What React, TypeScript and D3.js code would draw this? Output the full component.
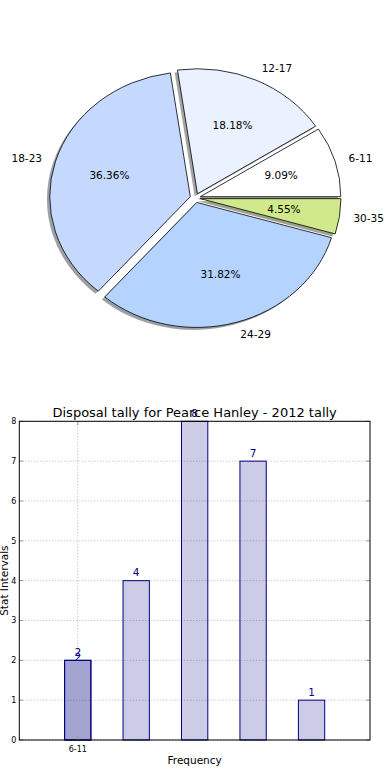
import React from "react";
import * as d3 from "d3";

// age brackets and their disposal counts
const ageGroups = ["6-11", "12-17", "18-23", "24-29", "30-35"];
const disposals = [2, 4, 8, 7, 1];
const wedgeColors = ["#ffffff", "#eaf1ff", "#c5d9ff", "#b4d4ff", "#cfe98b"];

// the first bar was plotted twice in the original
const repeatedBars = [{ index: 0, value: 2 }];
const yTicks = [0, 1, 2, 3, 4, 5, 6, 7, 8];
const xTicks = [{ pos: 0, label: "6-11" }];

const FONT = "DejaVu Sans, sans-serif";

const W = 390;
const H = 780;

// pie geometry (matplotlib pie without equal aspect -> ellipse)
const cx = 195.3;
const cy = 198;
const rx = 140.5;
const ry = 125;
const explode = 0.037;

// bar axes box
const ax = { left: 19.3, right: 370, top: 421.3, bottom: 740 };

const App = () => {
	const total = d3.sum(disposals);
	const pie = d3
		.pie<number>()
		.sort(null)
		.startAngle(Math.PI / 2)
		.endAngle(Math.PI / 2 - 2 * Math.PI);
	const arcs = pie(disposals);
	const unitArc = d3.arc<d3.PieArcDatum<number>>().innerRadius(0).outerRadius(1);

	const wedges = arcs.map((a, i) => {
		const mid = (a.startAngle + a.endAngle) / 2;
		const ux = Math.sin(mid);
		const uy = -Math.cos(mid);
		const ox = cx + explode * rx * ux;
		const oy = cy + explode * ry * uy;
		return {
			a,
			i,
			ox,
			oy,
			labelX: ox + 1.1 * rx * ux,
			labelY: oy + 1.1 * ry * uy,
			pctX: ox + 0.6 * rx * ux,
			pctY: oy + 0.6 * ry * uy,
			anchor: ux > 0 ? "start" : "end",
		};
	});

	const shade = (c: string) => {
		const col = d3.rgb(c);
		return d3.rgb(col.r * 0.3, col.g * 0.3, col.b * 0.3).toString();
	};

	const x = d3.scaleLinear().domain([-1, 5]).range([ax.left, ax.right]);
	const y = d3.scaleLinear().domain([0, 8]).range([ax.bottom, ax.top]);
	const barW = x(0.45) - x(0);

	return (
		<svg
			width={W}
			height={H}
			style={{ position: "absolute", left: 0, top: 0, background: "#fff" }}
			fontFamily={FONT}
		>
			{/* pie shadows */}
			{wedges.map((w) => (
				<path
					key={"s" + w.i}
					d={unitArc(w.a) || ""}
					transform={`translate(${w.ox - 0.02 * rx},${w.oy + 0.02 * ry}) scale(${rx},${ry})`}
					fill={shade(wedgeColors[w.i])}
					fillOpacity={0.5}
					stroke="none"
				/>
			))}
			{/* pie wedges */}
			{wedges.map((w) => (
				<path
					key={"w" + w.i}
					d={unitArc(w.a) || ""}
					transform={`translate(${w.ox},${w.oy}) scale(${rx},${ry})`}
					fill={wedgeColors[w.i]}
					stroke="#000"
					strokeWidth={0.8}
					vectorEffect="non-scaling-stroke"
					strokeLinejoin="round"
				/>
			))}
			{wedges.map((w) => (
				<g key={"t" + w.i} fontSize={10.5} fill="#000">
					<text x={w.labelX} y={w.labelY} dy="0.36em" textAnchor={w.anchor}>
						{ageGroups[w.i]}
					</text>
					<text x={w.pctX} y={w.pctY} dy="0.36em" textAnchor="middle">
						{((disposals[w.i] / total) * 100).toFixed(2) + "%"}
					</text>
				</g>
			))}

			{/* bar chart */}
			{yTicks.map((t) => (
				<line
					key={"gy" + t}
					x1={ax.left}
					x2={ax.right}
					y1={y(t)}
					y2={y(t)}
					stroke="#b8b8b8"
					strokeDasharray="1,2"
				/>
			))}
			{disposals.map((v, i) => (
				<rect
					key={"b" + i}
					x={x(i) - barW / 2}
					y={y(v)}
					width={barW}
					height={y(0) - y(v)}
					fill="#000080"
					fillOpacity={0.2}
					stroke="#000080"
					strokeWidth={1}
				/>
			))}
			{repeatedBars.map((b) => (
				<rect
					key={"rb" + b.index}
					x={x(b.index) - barW / 2}
					y={y(b.value)}
					width={barW}
					height={y(0) - y(b.value)}
					fill="#000080"
					fillOpacity={0.2}
					stroke="#000080"
					strokeWidth={1}
				/>
			))}
			{xTicks.map((t) => (
				<line
					key={"gx" + t.pos}
					x1={x(t.pos)}
					x2={x(t.pos)}
					y1={ax.top}
					y2={ax.bottom}
					stroke="#b0b0b0"
					strokeDasharray="1,2"
				/>
			))}
			{disposals.map((v, i) => (
				<text
					key={"bl" + i}
					x={x(i)}
					y={y(v) - 4.5}
					textAnchor="middle"
					fontSize={10.5}
					fill="#000080"
				>
					{v}
				</text>
			))}
			{repeatedBars.map((b) => (
				<text
					key={"rbl" + b.index}
					x={x(b.index)}
					y={y(b.value) + 1}
					textAnchor="middle"
					fontSize={10.5}
					fill="#000080"
				>
					{b.value}
				</text>
			))}
			{/* ticks */}
			{yTicks.map((t) => (
				<g key={"ty" + t}>
					<line x1={ax.left} x2={ax.left + 4} y1={y(t)} y2={y(t)} stroke="#999" />
					<line x1={ax.right - 4} x2={ax.right} y1={y(t)} y2={y(t)} stroke="#999" />
					<text x={ax.left - 3} y={y(t)} dy="0.36em" textAnchor="end" fontSize={8} fill="#000">
						{t}
					</text>
				</g>
			))}
			{xTicks.map((t) => (
				<g key={"tx" + t.pos}>
					<line x1={x(t.pos)} x2={x(t.pos)} y1={ax.bottom} y2={ax.bottom - 4} stroke="#999" />
					<line x1={x(t.pos)} x2={x(t.pos)} y1={ax.top} y2={ax.top + 4} stroke="#999" />
					<text x={x(t.pos)} y={ax.bottom + 12} textAnchor="middle" fontSize={8} fill="#000">
						{t.label}
					</text>
				</g>
			))}
			<rect
				x={ax.left}
				y={ax.top}
				width={ax.right - ax.left}
				height={ax.bottom - ax.top}
				fill="none"
				stroke="#000"
				strokeWidth={1}
			/>
			<text x={(ax.left + ax.right) / 2} y={417} textAnchor="middle" fontSize={13} fill="#000">
				Disposal tally for Pearce Hanley - 2012 tally
			</text>
			<text
				x={(ax.left + ax.right) / 2}
				y={763.5}
				textAnchor="middle"
				fontSize={10.5}
				fill="#000"
			>
				Frequency
			</text>
			<text
				transform={`translate(7.5,${(ax.top + ax.bottom) / 2}) rotate(-90)`}
				textAnchor="middle"
				fontSize={10.5}
				fill="#000"
			>
				Stat Intervals
			</text>
		</svg>
	);
};

export default App;
